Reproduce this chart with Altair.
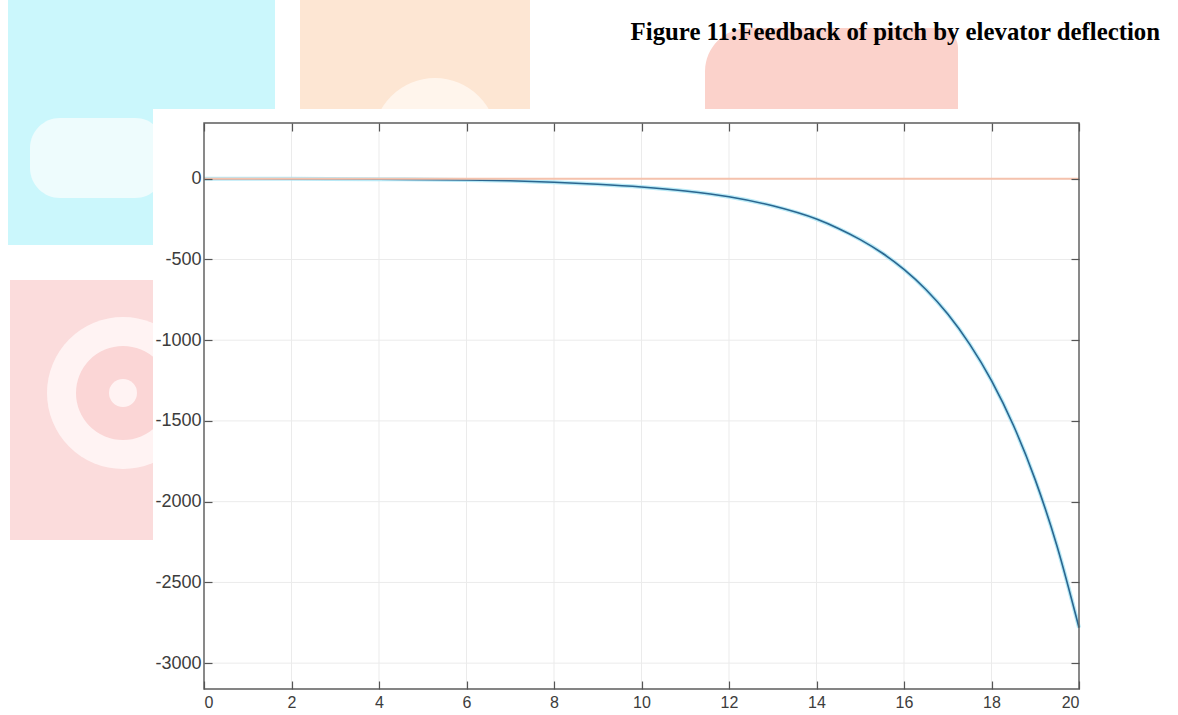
import altair as alt
import pandas as pd

# Pitch response (deg) to elevator deflection over time (s)
time_s = [0, 2, 4, 6, 7, 8, 9, 10, 11, 12, 13, 14, 14.5, 15, 15.5, 16, 16.5,
          17, 17.5, 18, 18.5, 19, 19.5, 20]
pitch = [0, -1, -3, -8, -13, -22, -34, -51, -76, -112, -168, -250, -308, -377,
         -460, -562, -686, -838, -1024, -1250, -1527, -1865, -2277, -2780]

# Reference (zero) signal
ref_time = [0, 20]
ref_value = [0, 0]

x_ticks = [0, 2, 4, 6, 8, 10, 12, 14, 16, 18, 20]
y_ticks = [0, -500, -1000, -1500, -2000, -2500, -3000]

title_text = "Figure 11:Feedback of pitch by elevator deflection"

W, H = 875, 566
LEFT, TOP = 204, 123

resp = pd.DataFrame({"t": time_s, "v": pitch})
ref = pd.DataFrame({"t": ref_time, "v": ref_value})
xt = pd.DataFrame({"t": x_ticks})
yt = pd.DataFrame({"v": y_ticks})

xs = alt.Scale(domain=[0, 20], nice=False, zero=False)
ys = alt.Scale(domain=[-3160, 345], nice=False, zero=False)

lab = dict(labelFont="Liberation Sans", labelColor="#3c3c3c",
           tickColor="#555555", tickWidth=1.2, grid=False, domain=False,
           offset=-8, tickSize=8, zindex=1, labelExpr="'' + datum.value")

one = alt.Data(values=[{}])


def patch(x0, x1, y0, y1, color, opacity=1.0, **kw):
    # decorative background block, absolute page pixels
    return alt.Chart(one).mark_rect(color=color, opacity=opacity, **kw).encode(
        x=alt.value(x0 - LEFT), x2=alt.value(x1 - LEFT),
        y=alt.value(y0 - TOP), y2=alt.value(y1 - TOP))


def disc(cx, cy, r, color, opacity=1.0):
    return alt.Chart(one).mark_point(shape="circle", filled=True, color=color,
                                     opacity=opacity, size=(2 * r) ** 2).encode(
        x=alt.value(cx - LEFT), y=alt.value(cy - TOP))


backdrop = [
    patch(8, 275, 0, 245, "#cbf7fc"),
    patch(30, 165, 118, 198, "#eefcfd", cornerRadius=30),
    patch(300, 530, 0, 115, "#fde6d3"),
    disc(435, 140, 62, "#fff5ec"),
    patch(705, 958, 28, 115, "#fbd2cb", cornerRadiusTopLeft=70, cornerRadiusTopRight=20),
    patch(10, 153, 280, 540, "#fbdcdc"),
    disc(123, 393, 76, "#fff3f3"),
    disc(123, 393, 47, "#fbd6d6"),
    disc(123, 393, 14, "#fff3f3"),
    patch(153, 1088, 109, 715, "white"),
]

grid_x = alt.Chart(xt).mark_rule(color="#ebebeb", strokeWidth=1).encode(
    x=alt.X("t:Q", scale=xs, axis=None))
grid_y = alt.Chart(yt).mark_rule(color="#ebebeb", strokeWidth=1).encode(
    y=alt.Y("v:Q", scale=ys, axis=None))

halo = alt.Chart(resp).mark_line(color="#a6e4f4", strokeWidth=4, opacity=0.8,
                                 interpolate="monotone").encode(
    x=alt.X("t:Q", scale=xs, axis=alt.Axis(values=x_ticks, orient="bottom",
                                           labelFontSize=16, labelPadding=5, **lab),
            title=None),
    y=alt.Y("v:Q", scale=ys, axis=alt.Axis(values=y_ticks, orient="left",
                                           labelFontSize=18, labelPadding=3, **lab),
            title=None))

core = alt.Chart(resp).mark_line(color="#2a6690", strokeWidth=1.6,
                                 interpolate="monotone").encode(
    x=alt.X("t:Q", scale=xs, axis=None),
    y=alt.Y("v:Q", scale=ys, axis=None))

ref_line = alt.Chart(ref).mark_line(color="#f5c2ad", strokeWidth=2).encode(
    x=alt.X("t:Q", scale=xs, axis=None),
    y=alt.Y("v:Q", scale=ys, axis=None))

# inward ticks on the top and right edges of the box
box_axes = alt.Chart(resp).mark_point(opacity=0).encode(
    x=alt.X("t:Q", scale=xs, title=None,
            axis=alt.Axis(values=x_ticks, orient="top", labels=False,
                          tickColor="#555555", tickWidth=1.2, grid=False,
                          domain=False, offset=-8, tickSize=8, zindex=1)),
    y=alt.Y("v:Q", scale=ys, title=None,
            axis=alt.Axis(values=y_ticks, orient="right", labels=False,
                          tickColor="#555555", tickWidth=1.2, grid=False,
                          domain=False, offset=-8, tickSize=8, zindex=1)))

frame = alt.Chart(one).mark_rect(fill=None, stroke="#5c5c5c", strokeWidth=1.4).encode(
    x=alt.value(0), x2=alt.value(W), y=alt.value(0), y2=alt.value(H))

title = alt.Chart(one).mark_text(font="Liberation Serif", fontWeight="bold",
                                 fontSize=24.8, align="right", baseline="alphabetic",
                                 color="black").encode(
    x=alt.value(1160 - LEFT), y=alt.value(40 - TOP), text=alt.value(title_text))

chart = alt.layer(
    *backdrop, grid_x, grid_y, halo, core, ref_line, box_axes, frame, title
).resolve_axis(x="independent", y="independent").properties(
    width=W, height=H,
    autosize=alt.AutoSizeParams(type="none"),
    padding={"left": LEFT, "top": TOP, "right": 1178 - LEFT - W, "bottom": 715 - TOP - H},
    background="white",
).configure_view(stroke=None)

chart.save("out.html", embed_options={"renderer": "svg", "actions": False})
